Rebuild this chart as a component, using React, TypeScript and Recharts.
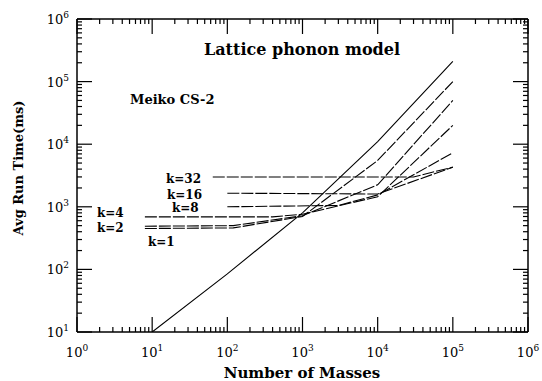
import React from 'react';
import { LineChart, Line, XAxis, YAxis, ReferenceDot } from 'recharts';

const xDecades = [1, 10, 100, 1000, 10000, 100000, 1000000];
const yDecades = [10, 100, 1000, 10000, 100000, 1000000];

// number of masses / avg run time, one pair per curve
const serialN = [10, 100, 1000, 10000, 100000];
const serialT = [10, 85, 800, 11000, 210000];
const k1N = [8, 120, 1000, 10000, 100000];
const k1T = [450, 460, 700, 5500, 100000];
const k2N = [8, 120, 1000, 10000, 100000];
const k2T = [490, 500, 720, 2250, 50000];
const k4N = [8, 400, 1000, 10000, 100000];
const k4T = [690, 690, 760, 1450, 20000];
const k8N = [100, 3000, 10000, 100000];
const k8T = [1000, 1050, 1550, 7300];
const k16N = [100, 10000, 100000];
const k16T = [1650, 1600, 4300];
const k32N = [64, 30000, 100000];
const k32T = [3000, 3000, 4300];

const kLabels = [
  { text: 'k=32', x: 166, y: 183 },
  { text: 'k=16', x: 167, y: 199 },
  { text: 'k=8', x: 172, y: 212 },
  { text: 'k=4', x: 97, y: 217 },
  { text: 'k=2', x: 97, y: 232 },
  { text: 'k=1', x: 148, y: 246 },
];

const zip = (n: number[], t: number[]) => n.map((v, i) => ({ n: v, t: t[i] }));

const curves = [
  { name: 'serial', data: zip(serialN, serialT), dash: undefined },
  { name: 'k=1', data: zip(k1N, k1T), dash: '12 2' },
  { name: 'k=2', data: zip(k2N, k2T), dash: '12 2' },
  { name: 'k=4', data: zip(k4N, k4T), dash: '12 2' },
  { name: 'k=8', data: zip(k8N, k8T), dash: '12 2' },
  { name: 'k=16', data: zip(k16N, k16T), dash: '12 2' },
  { name: 'k=32', data: zip(k32N, k32T), dash: '12 2' },
];

const withMinors = (dec: number[]) => {
  const out: number[] = [];
  dec.forEach((d, i) => {
    out.push(d);
    if (i < dec.length - 1) for (let m = 2; m <= 9; m++) out.push(d * m);
  });
  return out;
};

const xTicks = withMinors(xDecades);
const yTicks = withMinors(yDecades);

const FONT = 'DejaVu Serif';
const X0 = xDecades[0];
const X1 = xDecades[xDecades.length - 1];
const Y0 = yDecades[0];
const Y1 = yDecades[yDecades.length - 1];

const isMajor = (v: number) => Math.abs(Math.log10(v) - Math.round(Math.log10(v))) < 1e-6;

const Pow = ({ v }: { v: number }) => (
  <>
    10
    <tspan dy={-6} fontSize={9}>
      {Math.round(Math.log10(v))}
    </tspan>
  </>
);

// tick labels only; the tick marks are drawn with ReferenceDot shapes
const TickLabel = (props: any) => {
  const { payload, side } = props;
  const x = Number(props.x);
  const y = Number(props.y);
  const v = payload.value;
  if (!isMajor(v)) return <g />;
  if (side === 'bottom')
    return (
      <text x={x} y={y + 25} textAnchor="middle" fontFamily={FONT} fontSize={13} fill="#000">
        <Pow v={v} />
      </text>
    );
  return (
    <text x={x - 8} y={y + 5} textAnchor="end" fontFamily={FONT} fontSize={13} fill="#000">
      <Pow v={v} />
    </text>
  );
};

const mark = (dx: number, dy: number) => (p: any) =>
  <path d={`M${p.cx},${p.cy}l${dx},${dy}`} stroke="#000" strokeWidth={1.2} fill="none" />;

const len = (v: number) => (isMajor(v) ? 15 : 5);

const axisLine = { stroke: '#000', strokeWidth: 1.5 };

const App = () => {
  return (
    <div style={{ position: 'absolute', left: 0, top: 0, width: 542, height: 381, background: '#fff' }}>
      <LineChart width={542} height={381} margin={{ top: 0, right: 0, bottom: 0, left: 0 }}>
        <XAxis
          xAxisId="b"
          dataKey="n"
          type="number"
          scale="log"
          domain={[X0, X1]}
          allowDataOverflow
          ticks={xDecades}
          interval={0}
          height={49}
          tickSize={0}
          tickMargin={0}
          tickLine={false}
          axisLine={axisLine}
          tick={(p: any) => <TickLabel {...p} side="bottom" />}
        />
        <XAxis
          xAxisId="t"
          orientation="top"
          type="number"
          scale="log"
          domain={[X0, X1]}
          allowDataOverflow
          ticks={xDecades}
          height={19}
          tick={false}
          tickLine={false}
          axisLine={axisLine}
        />
        <YAxis
          yAxisId="l"
          type="number"
          scale="log"
          domain={[Y0, Y1]}
          allowDataOverflow
          ticks={yDecades}
          interval={0}
          width={77}
          tickSize={0}
          tickMargin={0}
          tickLine={false}
          axisLine={axisLine}
          tick={(p: any) => <TickLabel {...p} side="left" />}
        />
        <YAxis
          yAxisId="r"
          orientation="right"
          type="number"
          scale="log"
          domain={[Y0, Y1]}
          allowDataOverflow
          ticks={yDecades}
          width={14}
          tick={false}
          tickLine={false}
          axisLine={axisLine}
        />
        {xTicks.map((v) => (
          <ReferenceDot key={`xb${v}`} xAxisId="b" yAxisId="l" x={v} y={Y0} r={0} ifOverflow="visible" shape={mark(0, -len(v))} />
        ))}
        {xTicks.map((v) => (
          <ReferenceDot key={`xt${v}`} xAxisId="b" yAxisId="l" x={v} y={Y1} r={0} ifOverflow="visible" shape={mark(0, len(v))} />
        ))}
        {yTicks.map((v) => (
          <ReferenceDot key={`yl${v}`} xAxisId="b" yAxisId="l" x={X0} y={v} r={0} ifOverflow="visible" shape={mark(len(v), 0)} />
        ))}
        {yTicks.map((v) => (
          <ReferenceDot key={`yr${v}`} xAxisId="b" yAxisId="l" x={X1} y={v} r={0} ifOverflow="visible" shape={mark(-len(v), 0)} />
        ))}
        {curves.map((c) => (
          <Line
            key={c.name}
            name={c.name}
            data={c.data}
            dataKey="t"
            xAxisId="b"
            yAxisId="l"
            type="linear"
            stroke="#000"
            strokeWidth={1.1}
            strokeDasharray={c.dash}
            dot={false}
            isAnimationActive={false}
          />
        ))}
      </LineChart>
      <svg
        width={542}
        height={381}
        style={{ position: 'absolute', left: 0, top: 0, pointerEvents: 'none' }}
        fontFamily={FONT}
      >
        <text x={302} y={55} textAnchor="middle" fontSize={16} fontWeight="bold">
          Lattice phonon model
        </text>
        <text x={130} y={104} fontSize={13} fontWeight="bold">
          Meiko CS-2
        </text>
        {kLabels.map((l) => (
          <text key={l.text} x={l.x} y={l.y} fontSize={12} fontWeight="bold">
            {l.text}
          </text>
        ))}
        <text x={302} y={378} textAnchor="middle" fontSize={15} fontWeight="bold">
          Number of Masses
        </text>
        <text x={23} y={168} textAnchor="middle" fontSize={13} fontWeight="bold" transform="rotate(-90 23 168)">
          Avg Run Time(ms)
        </text>
      </svg>
    </div>
  );
};

export default App;
